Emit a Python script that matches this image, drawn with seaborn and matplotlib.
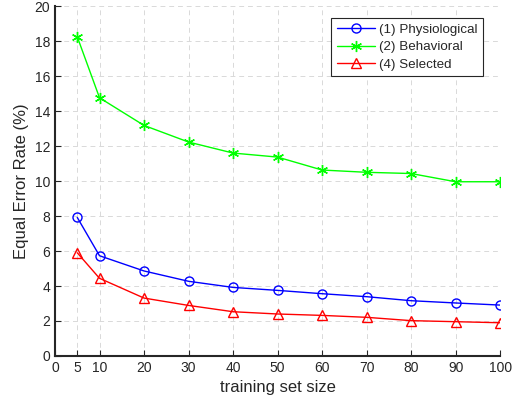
import matplotlib
matplotlib.use("Agg")
import matplotlib.pyplot as plt
import seaborn as sns
import pandas as pd

# training set sizes on x, EER (%) for each feature set
sizes = [5, 10, 20, 30, 40, 50, 60, 70, 80, 90, 100]
physiological = [7.92, 5.73, 4.86, 4.27, 3.92, 3.75, 3.56, 3.39, 3.16, 3.03, 2.91]
behavioral = [18.25, 14.76, 13.18, 12.23, 11.6, 11.37, 10.63, 10.5, 10.43, 9.96, 9.96]
selected = [5.9, 4.44, 3.31, 2.89, 2.53, 2.4, 2.32, 2.21, 2.02, 1.96, 1.9]

series_names = ["(1) Physiological", "(2) Behavioral", "(4) Selected"]
xticks = [0, 5, 10, 20, 30, 40, 50, 60, 70, 80, 90, 100]
yticks = list(range(0, 21, 2))

colors = ["#0000ff", "#00ff00", "#ff0000"]
marker_list = ["o", (6, 2, 0), "^"]
marker_sizes = [6.5, 8, 7]

sns.set_style("ticks")
plt.rcParams["font.family"] = ["Liberation Sans", "DejaVu Sans"]

fig = plt.figure(figsize=(5.14, 4.08), dpi=100)
ax = fig.add_axes([0.107, 0.1275, 0.866, 0.8575])

for name, vals, c, m, ms in zip(series_names, [physiological, behavioral, selected],
                                colors, marker_list, marker_sizes):
    df = pd.DataFrame({"size": sizes, "eer": vals})
    sns.lineplot(data=df, x="size", y="eer", color=c, marker=m, markersize=ms,
                 markerfacecolor="none", markeredgecolor=c, markeredgewidth=1.0,
                 linewidth=1.0, label=name, ax=ax)

ax.set_xlim(0, 100)
ax.set_ylim(0, 20)
ax.set_xticks(xticks)
ax.set_yticks(yticks)
ax.tick_params(direction="in", labelsize=10, length=4, width=0.8, colors="#262626")
ax.grid(True, linestyle=(0, (5, 4)), color="#d9d9d9", linewidth=0.7)
ax.set_xlabel("training set size", fontsize=12, color="#262626")
ax.set_ylabel("Equal Error Rate (%)", fontsize=12, color="#262626")
for side in ["top", "right"]:
    ax.spines[side].set_visible(False)
for side in ["left", "bottom"]:
    ax.spines[side].set_linewidth(1.5)
    ax.spines[side].set_color("#262626")

leg = ax.legend(loc="upper right", bbox_to_anchor=(0.962, 0.966),
                borderaxespad=0, fontsize=9.6, fancybox=False, framealpha=1,
                edgecolor="#262626", handlelength=2.9, labelspacing=0.4,
                handletextpad=0.3, borderpad=0.4)
leg.get_frame().set_linewidth(0.8)

fig.savefig("out.png", dpi=100)
